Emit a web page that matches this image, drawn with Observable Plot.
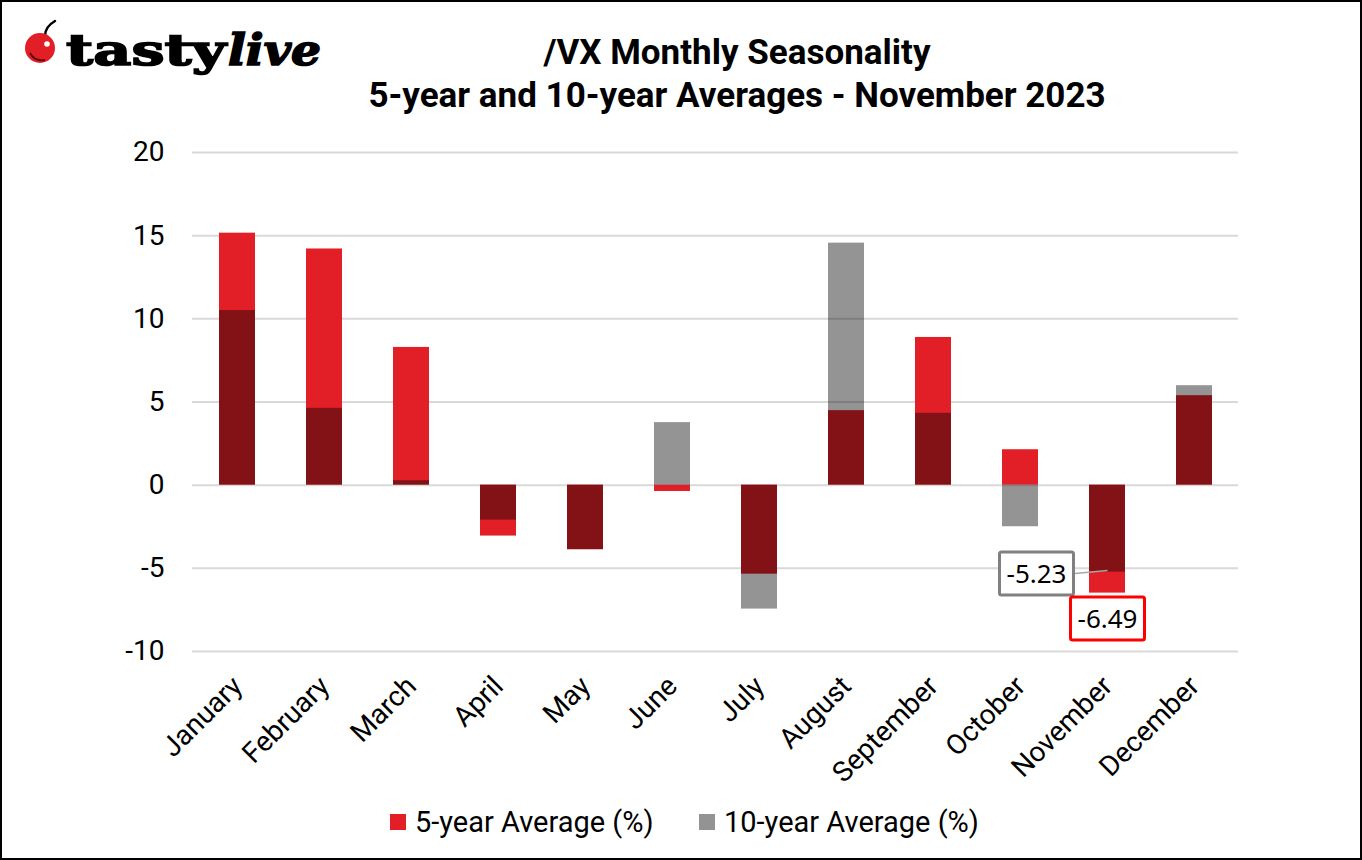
<!DOCTYPE html>
<html>
<head>
<meta charset="utf-8">
<script src="https://cdn.jsdelivr.net/npm/d3@7"></script>
<script src="https://cdn.jsdelivr.net/npm/@observablehq/plot@0.6"></script>
<style>
  html, body { margin: 0; padding: 0; background: #fff; }
  #wrap { position: relative; width: 1362px; height: 860px; overflow: hidden; background: #fff; font-family: Roboto, sans-serif; }
  #frame { position: absolute; left: 0; top: 0; width: 1362px; height: 860px; box-sizing: border-box; border: 2px solid #000; pointer-events: none; }
  #chart { position: absolute; left: 0; top: 0; }
  #title { position: absolute; left: 0; width: 1474px; top: 31px; text-align: center; font-weight: 700; font-size: 35px; line-height: 43px; color: #000; }
  #legend { position: absolute; top: 802px; left: 0; width: 1362px; height: 40px; font-size: 29px; color: #000; }
  .li { position: absolute; top: 0; display: flex; align-items: center; height: 40px; white-space: nowrap; }
  .sw { width: 16px; height: 16px; margin-right: 9px; }
  #logo { position: absolute; left: 0; top: 0; }
</style>
</head>
<body>
<div id="wrap">
  <svg id="logo" width="340" height="90">
    <path d="M45,36 C45,30 48,25 55,21" stroke="#000" stroke-width="2.5" fill="none" stroke-linecap="round"/>
    <circle cx="40" cy="48" r="15" fill="#e21f26"/>
    <path d="M30,53 C33,59 39,61 45,60" stroke="#5a0a0d" stroke-width="1.8" fill="none"/>
    <circle cx="47" cy="44" r="2.8" fill="#fff"/>
    <text x="66" y="65" font-family="DejaVu Serif" font-weight="700" font-size="42" fill="#000" stroke="#000" stroke-width="1.6" textLength="160" lengthAdjust="spacingAndGlyphs">tasty</text>
    <text x="228" y="65" font-family="DejaVu Serif" font-weight="700" font-style="italic" font-size="42" fill="#000" stroke="#000" stroke-width="1.6" textLength="93" lengthAdjust="spacingAndGlyphs">live</text>
  </svg>
  <div id="title">/VX Monthly Seasonality<br>5-year and 10-year Averages - November 2023</div>
  <div id="chart"></div>
  <div id="legend"></div>
  <div id="frame"></div>
</div>
<script>
// ---- data ----
const months = ["January","February","March","April","May","June","July","August","September","October","November","December"];
const avg5  = [15.15, 14.2, 8.28, -3.06, -3.88, -0.38, -5.35, 4.48, 8.88, 2.13, -6.49, 5.38];
const avg10 = [10.5, 4.62, 0.27, -2.1, -3.88, 3.76, -7.45, 14.55, 4.32, -2.5, -5.23, 5.98];
const yTicks = [-10, -5, 0, 5, 10, 15, 20];
const seriesNames = ["5-year Average (%)", "10-year Average (%)"];
const seriesColors = ["#e21f26", "#939393"];
const annotMonth = "November";
const annot5 = -6.49;
const annot10 = -5.23;

const data = months.map((m, i) => ({month: m, v5: avg5[i], v10: avg10[i]}));
const ann10 = [{month: annotMonth, v: annot10, label: String(annot10)}];
const ann5 = [{month: annotMonth, v: annot5, label: String(annot5)}];

const chart = Plot.plot({
  width: 1362,
  height: 860,
  marginLeft: 192,
  marginRight: 124,
  marginTop: 152,
  marginBottom: 209,
  style: {fontFamily: "Roboto, sans-serif", fontSize: "28px", color: "#000", background: "transparent", overflow: "visible"},
  x: {domain: months, paddingInner: 0.587, paddingOuter: 0.2935, label: null, tickSize: 0, tickRotate: -45, tickPadding: 30, fontSize: 29},
  y: {domain: [-10, 20], ticks: yTicks, tickFormat: d => String(d), label: null, tickSize: 0, tickPadding: 28},
  marks: [
    Plot.ruleY(yTicks, {stroke: "#d9d9d9", strokeWidth: 2}),
    Plot.barY(data, {x: "month", y: "v5", fill: seriesColors[0], inset: 0}),
    Plot.barY(data, {x: "month", y: "v10", fill: "#000", fillOpacity: 0.42, inset: 0}),
    Plot.text(ann10, {x: "month", y: "v", text: "label", dx: -71, dy: 3, fontFamily: "Noto Sans", fontSize: 26, fill: "#000"}),
    Plot.text(ann5, {x: "month", y: "v", text: "label", dy: 27, fontFamily: "Noto Sans", fontSize: 26, fill: "#000"})
  ]
});
document.getElementById("chart").appendChild(chart);

// boxes around annotation labels
const NS = "http://www.w3.org/2000/svg";
function boxify(label, stroke, leaderDx) {
  const texts = Array.from(chart.querySelectorAll("text")).filter(t => t.textContent === label);
  texts.forEach(t => {
    const b = t.getBBox();
    let ox = 0, oy = 0;
    const tl = t.transform && t.transform.baseVal;
    if (tl && tl.numberOfItems) { const m = tl.consolidate().matrix; ox = m.e; oy = m.f; }
    const w = 74, h = 43;
    const cx = ox + b.x + b.width / 2, cy = oy + b.y + b.height / 2;
    const parent = t.parentNode;
    const r = document.createElementNS(NS, "rect");
    r.setAttribute("x", cx - w / 2); r.setAttribute("y", cy - h / 2);
    r.setAttribute("width", w); r.setAttribute("height", h);
    r.setAttribute("rx", 2);
    r.setAttribute("fill", "#fff"); r.setAttribute("stroke", stroke); r.setAttribute("stroke-width", 3);
    parent.insertBefore(r, t);
    if (leaderDx) {
      const l = document.createElementNS(NS, "line");
      l.setAttribute("x1", cx + w / 2 + 1.5); l.setAttribute("y1", cy);
      l.setAttribute("x2", cx + leaderDx); l.setAttribute("y2", cy - 3);
      l.setAttribute("stroke", "#a6a6a6"); l.setAttribute("stroke-width", 1.5);
      parent.insertBefore(l, r);
    }
  });
}
boxify(String(annot10), "#808080", 71);
boxify(String(annot5), "#ff0000", 0);

// legend
const legend = document.getElementById("legend");
const lx = [390, 699];
seriesNames.forEach((n, i) => {
  const d = document.createElement("div");
  d.className = "li";
  d.style.left = lx[i] + "px";
  const s = document.createElement("div");
  s.className = "sw"; s.style.background = seriesColors[i];
  const t = document.createElement("span"); t.textContent = n;
  d.appendChild(s); d.appendChild(t);
  legend.appendChild(d);
});
</script>
</body>
</html>
